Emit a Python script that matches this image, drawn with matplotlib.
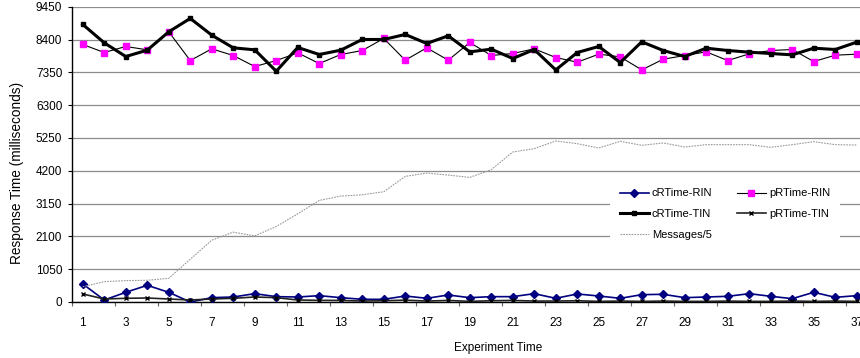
import matplotlib
matplotlib.use("Agg")
import matplotlib.pyplot as plt
import numpy as np

plt.rcParams['font.family'] = ['Liberation Sans', 'DejaVu Sans']

# Experiment index (x categories)
experiments = list(range(1, 38))

c_rtime_rin = [577, 64, 310, 534, 310, 0, 139, 160, 267, 171, 160, 203,
               139, 86, 86, 192, 118, 224, 139, 171, 171, 267, 118, 257,
               192, 118, 235, 246, 139, 160, 182, 267, 182, 107, 310, 150, 203]

p_rtime_rin = [8241, 7984, 8177, 8070, 8647, 7727, 8102, 7888, 7535, 7727, 7973, 7631,
               7920, 8048, 8434, 7738, 8134, 7738, 8305, 7888, 7952, 8102, 7824, 7674,
               7931, 7845, 7428, 7770, 7888, 8005, 7727, 7941, 8048, 8080, 7695, 7898, 7931]

c_rtime_tin = [8883, 8294, 7856, 8059, 8647, 9075, 8540, 8134, 8070, 7385, 8145, 7920,
               8059, 8401, 8401, 8562, 8273, 8519, 8005, 8091, 7792, 8080, 7428, 7984,
               8177, 7663, 8326, 8048, 7856, 8123, 8048, 7995, 7952, 7909, 8123, 8080, 8316]

p_rtime_tin = [257, 96, 118, 128, 96, 64, 96, 118, 160, 139, 64, 53,
               50, 30, 40, 60, 30, 50, 20, 40, 50, 30, 30, 40,
               20, 30, 20, 30, 20, 20, 30, 20, 20, 30, 20, 30, 20]

messages_div5 = [490, 652, 684, 695, 759, 1368, 1978, 2234, 2117, 2416, 2822, 3250,
                 3389, 3431, 3528, 4019, 4126, 4062, 3987, 4233, 4800, 4907, 5153, 5067,
                 4928, 5142, 5014, 5089, 4960, 5035, 5035, 5035, 4950, 5035, 5131, 5035, 5024]

y_ticks = [0, 1050, 2100, 3150, 4200, 5250, 6300, 7350, 8400, 9450]
x_labels = list(range(1, 38, 2))

W, H = 860, 358
fig = plt.figure(figsize=(W / 100, H / 100), dpi=100)
ax = fig.add_axes([72 / W, 1 - 302 / H, 795.5 / W, 295.3 / H])

x = np.array(experiments)

ax.plot(x, c_rtime_rin, color='#000080', lw=1.2, marker='D', ms=4,
        mfc='#000080', mec='#000080', label='cRTime-RIN', zorder=3)
ax.plot(x, p_rtime_rin, color='black', lw=0.8, marker='s', ms=5,
        mfc='#FF00FF', mec='#FF00FF', label='pRTime-RIN', zorder=4)
ax.plot(x, c_rtime_tin, color='black', lw=2.2, marker='s', ms=3,
        mfc='black', mec='black', label='cRTime-TIN', zorder=5)
ax.plot(x, p_rtime_tin, color='#222222', lw=1.2, marker='x', ms=3.5,
        mew=1.0, mec='black', label='pRTime-TIN', zorder=6)
ax.plot(x, messages_div5, color='#999999', lw=0.8, ls=(0, (1.5, 1)),
        label='Messages/5', zorder=7)

ax.set_xlim(0.5, 37.5)
ax.set_ylim(0, 9450)

ax.set_yticks(y_ticks)
ax.yaxis.grid(True, color='#8c8c8c', lw=0.9)
ax.set_axisbelow(True)
ax.tick_params(axis='y', direction='out', length=3, width=0.8, pad=4,
               labelsize=8.5, color='black')

ax.set_xticks(x_labels)
ax.set_xticklabels([str(v) for v in x_labels])
ax.set_xticks(np.arange(0.5, 38, 2), minor=True)
ax.tick_params(axis='x', which='major', length=0, pad=10.5, labelsize=8.5)
ax.tick_params(axis='x', which='minor', direction='out', length=3, width=0.8,
               color='#666666')

for side in ('top', 'right'):
    ax.spines[side].set_visible(False)
for side in ('left', 'bottom'):
    ax.spines[side].set_color('black')
    ax.spines[side].set_linewidth(1.0)

handles, labels = ax.get_legend_handles_labels()
order = [0, 2, 4, 1, 3]
leg = ax.legend([handles[i] for i in order], [labels[i] for i in order],
                ncol=2, loc='center', bbox_to_anchor=(725 / W, 1 - 214 / H),
                bbox_transform=fig.transFigure, fontsize=8,
                frameon=True, facecolor='white', edgecolor='none', framealpha=1,
                fancybox=False, handlelength=2.6, handletextpad=0.3,
                columnspacing=2.2, labelspacing=0.95, borderpad=0.9)
leg.set_zorder(10)

fig.text(17 / W, 1 - 173 / H, 'Response Time (milliseconds)', rotation=90,
         ha='center', va='center', fontsize=9.8)
fig.text(498 / W, 1 - 348 / H, 'Experiment Time', ha='center', va='center',
         fontsize=8.5)

fig.savefig('out.png', dpi=100)
